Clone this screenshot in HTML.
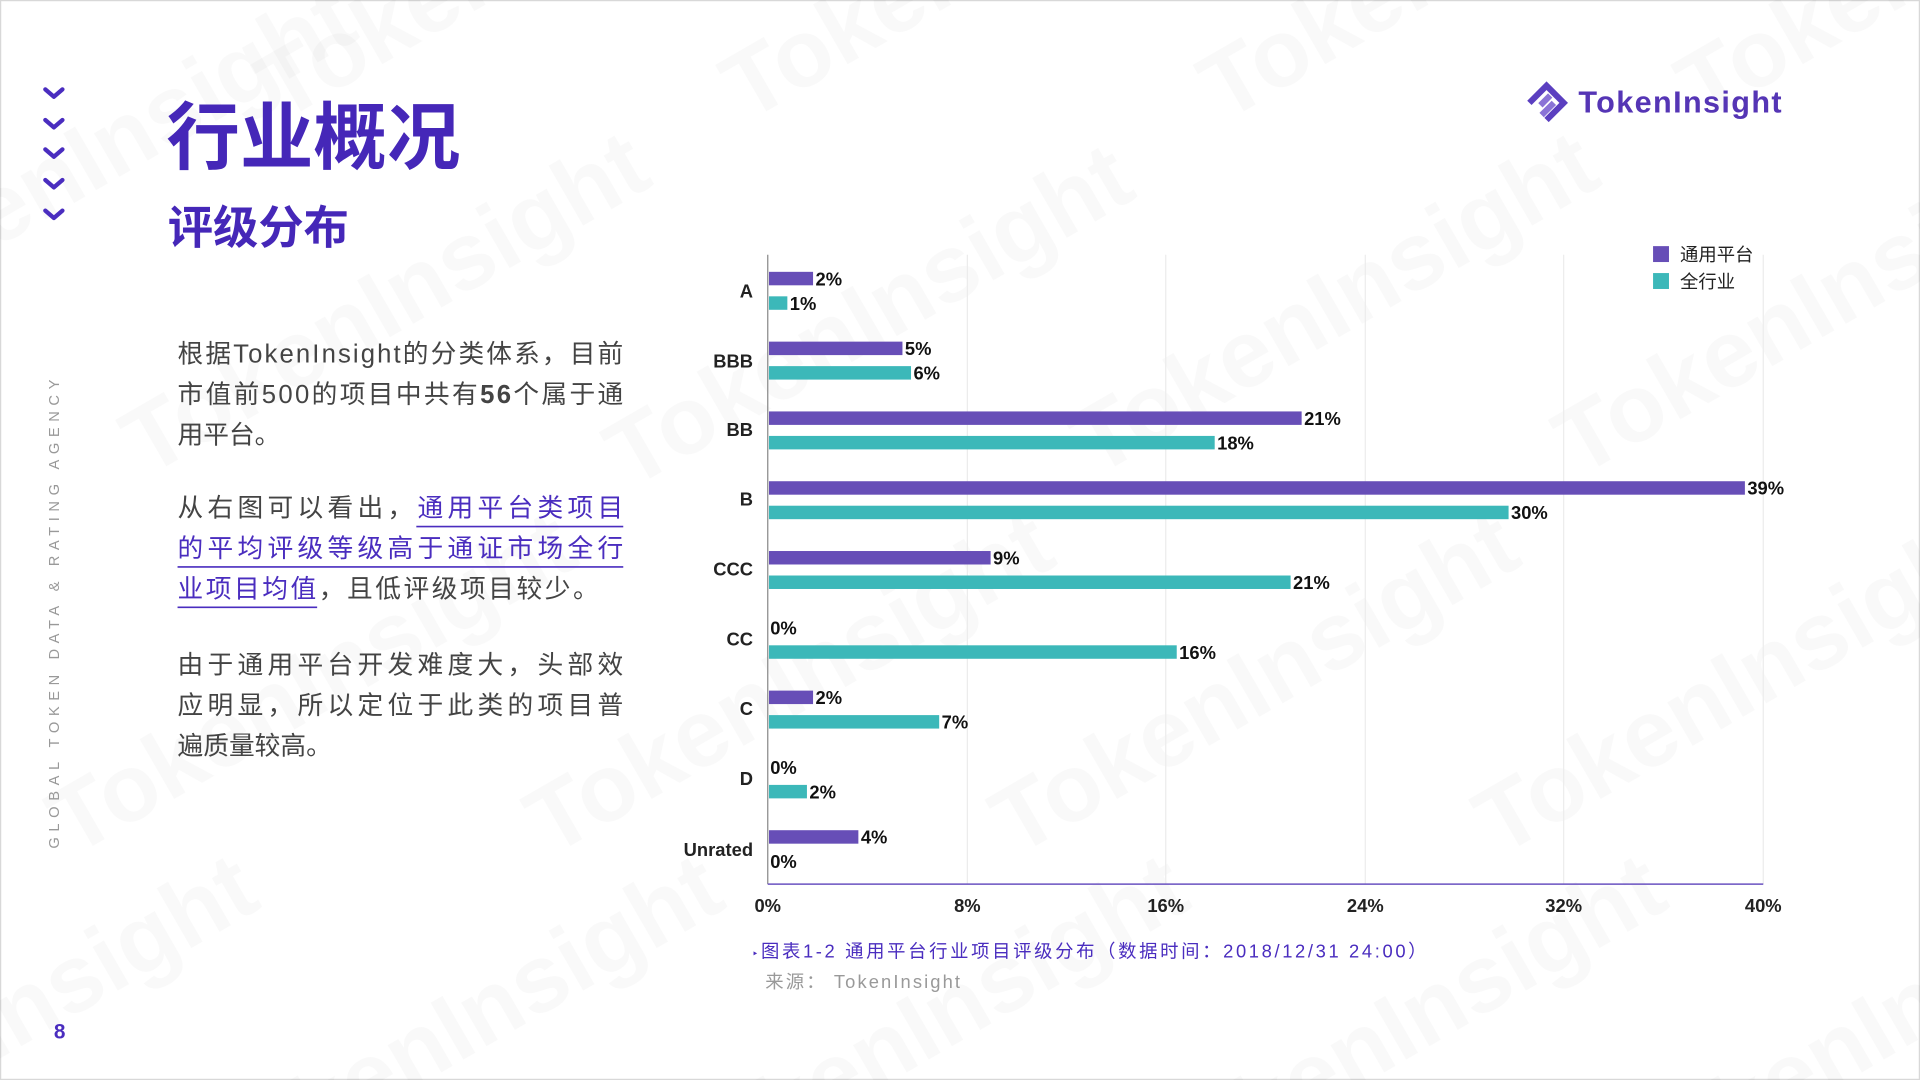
<!DOCTYPE html>
<html><head><meta charset="utf-8"><style>
html,body{margin:0;padding:0;background:#fff;width:1920px;height:1080px;overflow:hidden}
svg{display:block;position:absolute;left:0;top:0}
text{font-family:"Liberation Sans","Noto Sans CJK SC",sans-serif}
</style></head><body>
<svg width="1920" height="1080" viewBox="0 0 1568 882" xmlns="http://www.w3.org/2000/svg">
<rect x="0.5" y="0.5" width="1567" height="881" fill="#fff" stroke="#d8d8d8" stroke-width="1"/>
<g fill="#000" fill-opacity="0.022" font-weight="bold" font-size="78">
<text transform="translate(60,700) rotate(-30)">TokenInsight</text>
<text transform="translate(450,700) rotate(-30)">TokenInsight</text>
<text transform="translate(830,700) rotate(-30)">TokenInsight</text>
<text transform="translate(1225,700) rotate(-30)">TokenInsight</text>
<text transform="translate(120,390) rotate(-30)">TokenInsight</text>
<text transform="translate(515,400) rotate(-30)">TokenInsight</text>
<text transform="translate(895,390) rotate(-30)">TokenInsight</text>
<text transform="translate(1290,390) rotate(-30)">TokenInsight</text>
<text transform="translate(-120,270) rotate(-30)">TokenInsight</text>
<text transform="translate(230,100) rotate(-30)">TokenInsight</text>
<text transform="translate(610,100) rotate(-30)">TokenInsight</text>
<text transform="translate(1000,100) rotate(-30)">TokenInsight</text>
<text transform="translate(1390,100) rotate(-30)">TokenInsight</text>
<text transform="translate(-200,980) rotate(-30)">TokenInsight</text>
<text transform="translate(180,980) rotate(-30)">TokenInsight</text>
<text transform="translate(560,980) rotate(-30)">TokenInsight</text>
<text transform="translate(950,980) rotate(-30)">TokenInsight</text>
<text transform="translate(1340,980) rotate(-30)">TokenInsight</text>
</g>
<g fill="none" stroke="#4a2dbf" stroke-width="3.5" stroke-linecap="round" stroke-linejoin="round">
<polyline points="37,73 44,79 51,73"/><polyline points="37,98 44,104 51,98"/><polyline points="37,122 44,128 51,122"/><polyline points="37,147 44,153 51,147"/><polyline points="37,172 44,178 51,172"/>
</g>
<text transform="translate(48,693) rotate(-90)" font-size="12" textLength="383" lengthAdjust="spacing" fill="#999">GLOBAL TOKEN DATA &amp; RATING AGENCY</text>
<text x="44" y="848" font-size="17" font-weight="bold" fill="#4a2dbf">8</text>
<text x="136" y="133" font-size="60" font-weight="bold" fill="#4527b8">行业概况</text>
<text x="137" y="199" font-size="37" font-weight="bold" fill="#4527b8">评级分布</text>
<g transform="translate(1263,84)" fill="none" stroke-width="5">
<path d="M-14,0 L0,-14 L14,0 L0,14" stroke="#5b3fc0"/>
<path d="M-5,2 L3,-6 M-4,10 L6,0" stroke="#8a73d6"/>
</g>
<text x="1289" y="92" font-size="25" font-weight="bold" fill="#5535b5" textLength="166">TokenInsight</text>
<g font-size="21" fill="#444">
<text x="145" y="296" textLength="364">根据TokenInsight的分类体系，目前</text>
<text x="145" y="329" textLength="364">市值前500的项目中共有<tspan font-weight="bold">56</tspan>个属于通</text>
<text x="145" y="362">用平台。</text>
<text x="145" y="422" textLength="364">从右图可以看出，<tspan fill="#4a2dbf">通用平台类项目</tspan></text>
<text x="145" y="455" fill="#4a2dbf" textLength="364">的平均评级等级高于通证市场全行</text>
<text x="145" y="488" textLength="344"><tspan fill="#4a2dbf">业项目均值</tspan>，且低评级项目较少。</text>
<text x="145" y="550" textLength="364">由于通用平台开发难度大，头部效</text>
<text x="145" y="583" textLength="364">应明显，所以定位于此类的项目普</text>
<text x="145" y="616">遍质量较高。</text>
</g>
<g stroke="#4a2dbf" stroke-width="1.3">
<line x1="340" y1="430" x2="509" y2="430"/><line x1="145" y1="463" x2="509" y2="463"/><line x1="145" y1="496" x2="259" y2="496"/>
</g>
<g stroke="#ececec" stroke-width="1">
<line x1="790" y1="208" x2="790" y2="722"/><line x1="952" y1="208" x2="952" y2="722"/><line x1="1115" y1="208" x2="1115" y2="722"/><line x1="1277" y1="208" x2="1277" y2="722"/><line x1="1440" y1="208" x2="1440" y2="722"/>
</g>
<line x1="627" y1="208" x2="627" y2="722" stroke="#888" stroke-width="1"/>
<line x1="627" y1="722" x2="1440" y2="722" stroke="#6a52c0" stroke-width="1.2"/>
<g fill="#674eb7">
<rect x="628" y="222" width="36" height="11"/>
<rect x="628" y="279" width="109" height="11"/>
<rect x="628" y="336" width="435" height="11"/>
<rect x="628" y="393" width="797" height="11"/>
<rect x="628" y="450" width="181" height="11"/>
<rect x="628" y="564" width="36" height="11"/>
<rect x="628" y="678" width="73" height="11"/>
</g>
<g fill="#3cb8b9">
<rect x="628" y="242" width="15" height="11"/>
<rect x="628" y="299" width="116" height="11"/>
<rect x="628" y="356" width="364" height="11"/>
<rect x="628" y="413" width="604" height="11"/>
<rect x="628" y="470" width="426" height="11"/>
<rect x="628" y="527" width="333" height="11"/>
<rect x="628" y="584" width="139" height="11"/>
<rect x="628" y="641" width="31" height="11"/>
</g>
<g font-size="15" font-weight="bold" fill="#111">
<text x="666" y="233">2%</text><text x="645" y="253">1%</text>
<text x="739" y="290">5%</text><text x="746" y="310">6%</text>
<text x="1065" y="347">21%</text><text x="994" y="367">18%</text>
<text x="1427" y="404">39%</text><text x="1234" y="424">30%</text>
<text x="811" y="461">9%</text><text x="1056" y="481">21%</text>
<text x="629" y="518">0%</text><text x="963" y="538">16%</text>
<text x="666" y="575">2%</text><text x="769" y="595">7%</text>
<text x="629" y="632">0%</text><text x="661" y="652">2%</text>
<text x="703" y="689">4%</text><text x="629" y="709">0%</text>
</g>
<g font-size="15" font-weight="bold" fill="#222" text-anchor="end">
<text x="615" y="243">A</text><text x="615" y="300">BBB</text><text x="615" y="356">BB</text><text x="615" y="413">B</text><text x="615" y="470">CCC</text><text x="615" y="527">CC</text><text x="615" y="584">C</text><text x="615" y="641">D</text><text x="615" y="699">Unrated</text>
</g>
<g font-size="15" font-weight="bold" fill="#222" text-anchor="middle">
<text x="627" y="745">0%</text><text x="790" y="745">8%</text><text x="952" y="745">16%</text><text x="1115" y="745">24%</text><text x="1277" y="745">32%</text><text x="1440" y="745">40%</text>
</g>
<rect x="1350" y="201" width="13" height="13" fill="#674eb7"/>
<rect x="1350" y="223" width="13" height="13" fill="#3cb8b9"/>
<text x="1372" y="213" font-size="15" fill="#222">通用平台</text>
<text x="1372" y="235" font-size="15" fill="#222">全行业</text>
<text x="614" y="782" font-size="15" fill="#4a2dbf" textLength="551" lengthAdjust="spacing"><tspan font-size="9">‣</tspan>图表1-2 通用平台行业项目评级分布（数据时间：2018/12/31 24:00）</text>
<text x="625" y="807" font-size="15" fill="#999" textLength="159" lengthAdjust="spacing">来源： TokenInsight</text>
</svg>
</body></html>
